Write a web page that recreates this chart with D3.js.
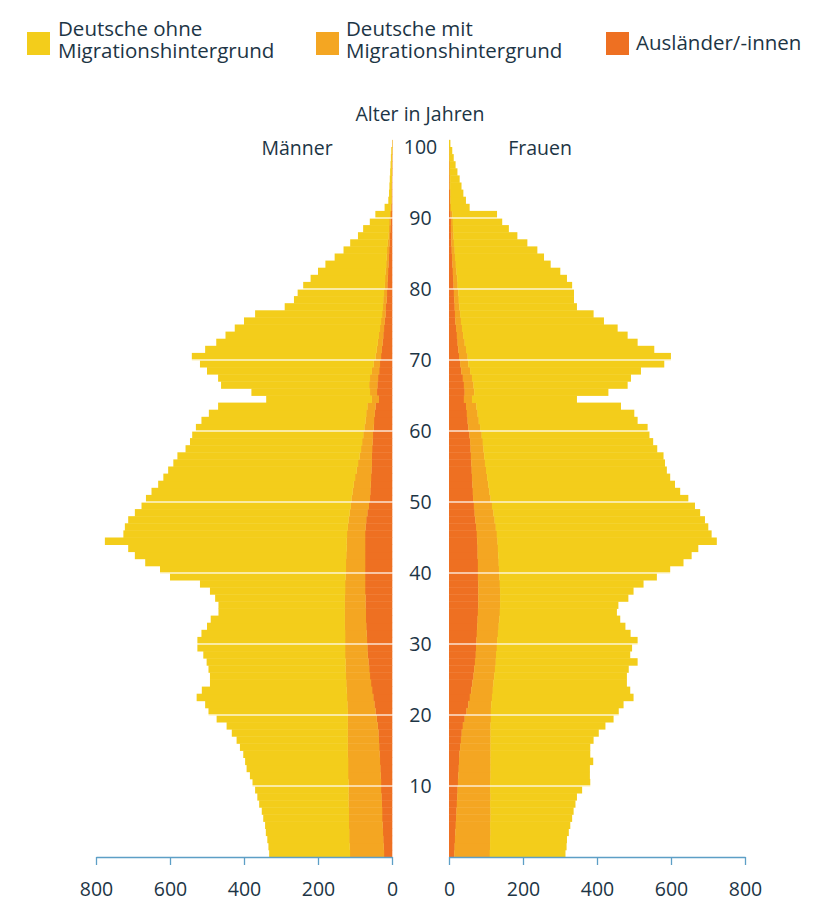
<!DOCTYPE html>
<html>
<head>
<meta charset="utf-8">
<script src="https://cdn.jsdelivr.net/npm/d3@7"></script>
<style>
  html, body { margin: 0; padding: 0; background: #ffffff; }
  svg { display: block; }
  text { font-family: "Open Sans", "Noto Sans", sans-serif; fill: #1d3545; }
</style>
</head>
<body>
<svg id="chart" width="813" height="903"></svg>
<script>
// ---------- DATA (thousands of persons, ages 0..100) ----------
const ages = d3.range(0, 101);
const seriesKeys = ["ausl", "mit", "ohne"];
const seriesLabels = [["Deutsche ohne", "Migrationshintergrund"], ["Deutsche mit", "Migrationshintergrund"], ["Ausländer/-innen"]];
const xTickValues = [0, 200, 400, 600, 800];
const ageTickValues = [10, 20, 30, 40, 50, 60, 70, 80, 90, 100];

// Männer
const menAusl = [22,23,24,25,26,27,27,28,29,30, 30,31,32,33,34,35,36,37,39,42, 45,48,51,54,57,60,62,64,66,67,
  68,69,70,71,71,72,72,73,73,73, 73,73,73,73,73,73,72,70,67,63, 60,59,58,57,56,55,55,54,53,52,
  50,49,47,45,36,41,40,38,35,33, 30,28,26,24,22,20,18,17,15,14, 13,12,11,10,9,8,7,6,5,4, 3,2,1,1,1,1,0,0,0,0,0];
const menMit = [92,92,92,91,91,90,90,90,89,88, 88,88,87,86,86,85,84,83,81,78, 75,73,71,69,67,65,64,62,61,60,
  59,58,58,57,57,56,56,54,54,53, 52,52,51,50,50,49,48,48,48,49, 50,48,46,43,40,37,33,30,28,26,
  25,23,23,22,19,19,22,22,20,17, 15,14,13,12,11,10,9,8,9,8, 7,7,7,6,6,6,5,4,4,4, 3,2,1,1,1,0,1,1,1,0,0];
const menOhne = [218,219,221,225,226,231,235,241,246,252, 259,265,274,278,282,291,300,313,327,354,
  376,384,406,391,368,367,370,375,383,399, 399,388,372,362,341,341,350,365,392,474,
  502,542,571,590,653,604,602,595,580,565, 555,543,528,518,509,499,492,474,465,462,
  455,443,425,403,285,320,400,410,445,469, 496,463,436,414,392,370,343,265,241,233,
  220,201,182,164,140,117,101,82,69,52, 39,16,8,6,5,5,4,3,2,2,0];

// Frauen
const womenAusl = [14,15,16,17,18,19,20,21,22,23, 24,25,26,27,28,30,32,34,37,42, 47,52,56,60,63,66,68,70,72,73,
  74,75,76,77,78,79,79,79,79,78, 78,78,77,77,76,75,73,71,69,67, 65,64,63,62,61,60,59,58,57,55,
  52,50,48,46,40,42,40,37,33,30, 27,25,23,21,19,17,16,15,14,13, 12,11,10,9,8,7,6,6,5,5, 4,2,2,2,1,1,1,1,0,0,0];
const womenMit = [96,96,95,95,93,93,92,90,90,88, 87,87,86,85,84,82,80,78,75,71, 66,62,60,58,57,56,56,56,55,56,
  56,57,58,59,59,59,59,59,58,58, 57,56,56,55,55,54,53,52,51,49, 47,45,43,41,39,37,36,35,34,33,
  32,30,29,28,22,26,26,25,24,22, 23,21,19,17,16,15,14,13,12,12, 11,11,10,9,8,8,7,6,6,5, 5,3,2,2,2,2,1,1,1,1,0];
const womenOhne = [204,206,207,211,216,220,224,230,233,248, 270,268,268,277,269,269,278,292,310,331,
  345,357,382,371,360,358,361,383,362,365, 379,358,342,326,316,319,346,360,388,425,
  462,499,522,541,592,580,574,568,558,548, 534,515,504,494,488,486,484,469,460,453,
  452,429,423,390,283,362,416,429,461,529, 549,508,467,444,420,386,360,317,311,312,
  309,296,280,256,240,223,198,172,150,133, 120,50,41,34,30,25,20,15,11,7,3];

// ---------- LAYOUT ----------
const svg = d3.select("#chart");
const colors = { ohne: "#f3cd1b", mit: "#f4a622", ausl: "#ee7022" };
const legendOrder = ["ohne", "mit", "ausl"];

const yAge = d3.scaleLinear().domain([0, 100]).range([857, 147]);
const xL = d3.scaleLinear().domain([0, 800]).range([392, 96]);
const xR = d3.scaleLinear().domain([0, 800]).range([449, 745]);

function rows(ausl, mit, ohne) {
  return ages.map((a, i) => ({ age: a, ausl: ausl[i], mit: mit[i], ohne: ohne[i] }));
}
const stack = d3.stack().keys(seriesKeys);
const menStack = stack(rows(menAusl, menMit, menOhne));
const womenStack = stack(rows(womenAusl, womenMit, womenOhne));

function drawSide(stacked, xs, left) {
  const g = svg.append("g");
  stacked.forEach(layer => {
    g.append("g").attr("fill", colors[layer.key])
      .selectAll("rect").data(layer).join("rect")
      .attr("x", d => left ? xs(d[1]) : xs(d[0]))
      .attr("width", d => Math.abs(xs(d[1]) - xs(d[0])) + 0.3)
      .attr("y", d => yAge(d.data.age + 1))
      .attr("height", d => yAge(d.data.age) - yAge(d.data.age + 1) + 0.4);
  });
}
drawSide(menStack, xL, true);
drawSide(womenStack, xR, false);

// white grid lines through bars
svg.append("g").selectAll("line").data(ageTickValues.filter(v => v < 100)).join("line")
  .attr("x1", xL(800)).attr("x2", xR(800))
  .attr("y1", d => yAge(d)).attr("y2", d => yAge(d))
  .attr("stroke", "#ffffff").attr("stroke-opacity", 0.8).attr("stroke-width", 1.6);

// centre white column (age labels)
svg.append("rect").attr("x", xL(0) + 1).attr("y", 120)
  .attr("width", xR(0) - xL(0) - 2).attr("height", yAge(0) - 120).attr("fill", "#ffffff");

svg.append("g").selectAll("text").data(ageTickValues).join("text")
  .attr("x", (xL(0) + xR(0)) / 2).attr("y", d => yAge(d))
  .attr("dy", "0.36em").attr("text-anchor", "middle")
  .style("font-size", "19.5px").text(d => d);

// x axes
function styleAxis(g) {
  g.select(".domain").attr("stroke", "#5d9fc6").attr("stroke-width", 1.3);
  g.selectAll(".tick line").attr("stroke", "#5d9fc6").attr("stroke-width", 1.3);
  g.selectAll(".tick text").style("font-size", "19.5px").attr("fill", "#1d3545")
    .style("font-family", '"Open Sans", "Noto Sans", sans-serif');
}
svg.append("g").attr("transform", `translate(0,${yAge(0)})`)
  .call(d3.axisBottom(xL).tickValues(xTickValues).tickSizeInner(8).tickSizeOuter(0).tickPadding(17))
  .call(styleAxis);
svg.append("g").attr("transform", `translate(0,${yAge(0)})`)
  .call(d3.axisBottom(xR).tickValues(xTickValues).tickSizeInner(8).tickSizeOuter(0).tickPadding(17))
  .call(styleAxis);

// titles
svg.append("text").attr("x", 420).attr("y", 121).attr("text-anchor", "middle")
  .style("font-size", "19.5px").text("Alter in Jahren");
svg.append("text").attr("x", 297).attr("y", 155).attr("text-anchor", "middle")
  .style("font-size", "19.5px").text("Männer");
svg.append("text").attr("x", 540).attr("y", 155).attr("text-anchor", "middle")
  .style("font-size", "19.5px").text("Frauen");

// legend
const legendPos = [{ x: 27, y: 32, tx: 58 }, { x: 316, y: 32, tx: 346 }, { x: 606, y: 32, tx: 636 }];
legendOrder.forEach((k, i) => {
  const p = legendPos[i];
  svg.append("rect").attr("x", p.x).attr("y", p.y).attr("width", 23).attr("height", 23).attr("fill", colors[k]);
  const lines = seriesLabels[i];
  const t = svg.append("text").attr("x", p.tx).style("font-size", "20.5px");
  if (lines.length === 2) {
    t.attr("y", 36);
    t.append("tspan").attr("x", p.tx).attr("y", 36).text(lines[0]);
    t.append("tspan").attr("x", p.tx).attr("y", 58).text(lines[1]);
  } else {
    t.attr("y", 50).text(lines[0]);
  }
});
</script>
</body>
</html>
